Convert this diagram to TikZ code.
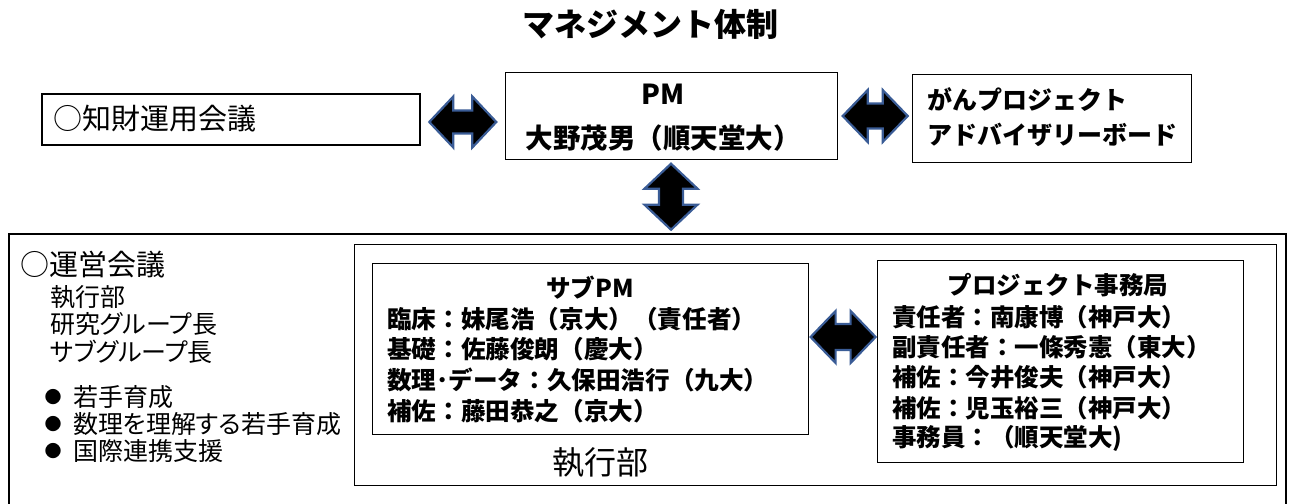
\documentclass[tikz,border=0pt]{standalone}
\usepackage{fontspec}
\usetikzlibrary{calc}
\setmainfont{Noto Sans CJK JP}
\newfontfamily\propfont[RawFeature=+palt]{Noto Sans CJK JP}
\definecolor{arrowblue}{RGB}{58,92,150}
\newcommand{\HDArrow}[5]{%
  \draw[arrowsty, shift={(#1)}] (-#2,0) -- (-#2+#5,-#3) -- (-#2+#5,-#4) -- (#2-#5,-#4) -- (#2-#5,-#3) -- (#2,0)
    -- (#2-#5,#3) -- (#2-#5,#4) -- (-#2+#5,#4) -- (-#2+#5,#3) -- cycle;}
\newcommand{\VDArrow}[5]{%
  \draw[arrowsty, shift={(#1)}] (0,-#2) -- (#3,-#2+#5) -- (#4,-#2+#5) -- (#4,#2-#5) -- (#3,#2-#5) -- (0,#2)
    -- (-#3,#2-#5) -- (-#4,#2-#5) -- (-#4,-#2+#5) -- (-#3,-#2+#5) -- cycle;}
\begin{document}
\begin{tikzpicture}[x=1pt,y=-1pt,
  box/.style={draw=black,line width=1.6pt,fill=white,inner sep=0,anchor=north west},
  thinbox/.style={draw=black,line width=1.2pt,fill=white,inner sep=0,anchor=north west},
  arrowsty/.style={fill=black,draw=arrowblue,line width=2.2pt,line join=miter},
  txt/.style={inner sep=0,anchor=west,font=\fontsize{24}{24}\selectfont},
  btxt/.style={inner sep=0,anchor=west,font=\fontsize{24.6}{24}\selectfont\bfseries},
  otxt/.style={inner sep=0,anchor=west,font=\fontsize{24.5}{24}\selectfont\bfseries},
  ltxt/.style={inner sep=0,anchor=west,font=\fontsize{25}{26}\selectfont\propfont},
  bullet/.style={inner sep=0,font=\fontsize{17}{17}\selectfont}]
\clip (0,0) rectangle (1292,503);
\fill[white] (0,0) rectangle (1292,503);
% title
\node[inner sep=0,font=\fontsize{32}{32}\selectfont\bfseries] (title) at (650,24) {マネジメント体制};
% top row boxes
\node[box,minimum width=378,minimum height=51] (ip) at (41,93) {};
\node[txt,font=\fontsize{29}{29}\selectfont] (iptxt) at (53,119) {○知財運用会議};
\node[box,line width=1.4pt,minimum width=332,minimum height=87] (pm) at (505,72) {};
\node[inner sep=0,font=\fontsize{27.5}{28}\selectfont\bfseries] (pmtitle) at (663,94) {PM};
\node[inner sep=0,font=\fontsize{27.5}{28}\selectfont\bfseries] (pmname) at (663,138) {大野茂男（順天堂大）};
\node[box,line width=1.4pt,minimum width=279,minimum height=88] (adv) at (912,74) {};
\node[inner sep=0,anchor=west,font=\fontsize{25}{25}\selectfont\bfseries] (adv1) at (927,100) {がんプロジェクト};
\node[inner sep=0,anchor=west,font=\fontsize{25}{25}\selectfont\bfseries] (adv2) at (927,135) {アドバイザリーボード};
% outer box
\node[box,minimum width=1277,minimum height=300] (outer) at (8,233) {};
\node[ltxt,font=\fontsize{29}{29}\selectfont\propfont] (unei) at (20,265) {○運営会議};
\node[ltxt] (l1) at (50,297) {執行部};
\node[ltxt] (l2) at (50,324) {研究グループ長};
\node[ltxt] (l3) at (50,352) {サブグループ長};
\node[bullet] (d1) at (53,397) {●};
\node[ltxt] (b1) at (73,397) {若手育成};
\node[bullet] (d2) at (53,424) {●};
\node[ltxt] (b2) at (73,424) {数理を理解する若手育成};
\node[bullet] (d3) at (53,451) {●};
\node[ltxt] (b3) at (73,451) {国際連携支援};
% executive box
\node[box,line width=1.4pt,minimum width=922,minimum height=241] (exec) at (354,244) {};
\node[inner sep=0,font=\fontsize{32}{32}\selectfont] (execlbl) at (600,463) {執行部};
% sub PM box
\node[thinbox,minimum width=436,minimum height=171] (sub) at (372,263) {};
\node[inner sep=0,font=\fontsize{24.6}{24}\selectfont\bfseries] (subtitle) at (590,288) {サブPM};
\node[btxt] (s1) at (387,319) {臨床：妹尾浩（京大）（責任者）};
\node[btxt] (s2) at (387,349) {基礎：佐藤俊朗（慶大）};
\node[btxt] (s3) at (387,380) {数理･データ：久保田浩行（九大）};
\node[btxt] (s4) at (387,411) {補佐：藤田恭之（京大）};
% office box
\node[thinbox,minimum width=366,minimum height=202] (office) at (877,260) {};
\node[inner sep=0,font=\fontsize{24.5}{24}\selectfont\bfseries] (offtitle) at (1058,285) {プロジェクト事務局};
\node[otxt] (o1) at (892,317) {責任者：南康博（神戸大）};
\node[otxt] (o2) at (892,347) {副責任者：一條秀憲（東大）};
\node[otxt] (o3) at (892,377) {補佐：今井俊夫（神戸大）};
\node[otxt] (o4) at (892,408) {補佐：児玉裕三（神戸大）};
\node[otxt] (o5) at (892,438) {事務員：（順天堂大)};
% connectors (double block arrows)
\coordinate (a1) at ($(ip.east)!0.5!(pm.west)$);
\coordinate (a1c) at (a1 |- 0,122);
\HDArrow{a1c}{33.5}{25.5}{11.5}{24}
\coordinate (a2) at ($(pm.east)!0.5!(adv.west)$);
\coordinate (a2c) at (a2 |- 0,116);
\HDArrow{a2c}{32.5}{26}{12.5}{25}
\coordinate (a3) at ($(sub.east)!0.5!(office.west)$);
\coordinate (a3c) at (a3 |- 0,337);
\HDArrow{a3c}{32.5}{26}{13}{25}
\coordinate (a4) at ($(pm.south)!0.5!(outer.north)$);
\coordinate (a4c) at (671,0 |- a4);
\VDArrow{a4c}{33}{26.5}{12}{25}
\end{tikzpicture}
\end{document}
